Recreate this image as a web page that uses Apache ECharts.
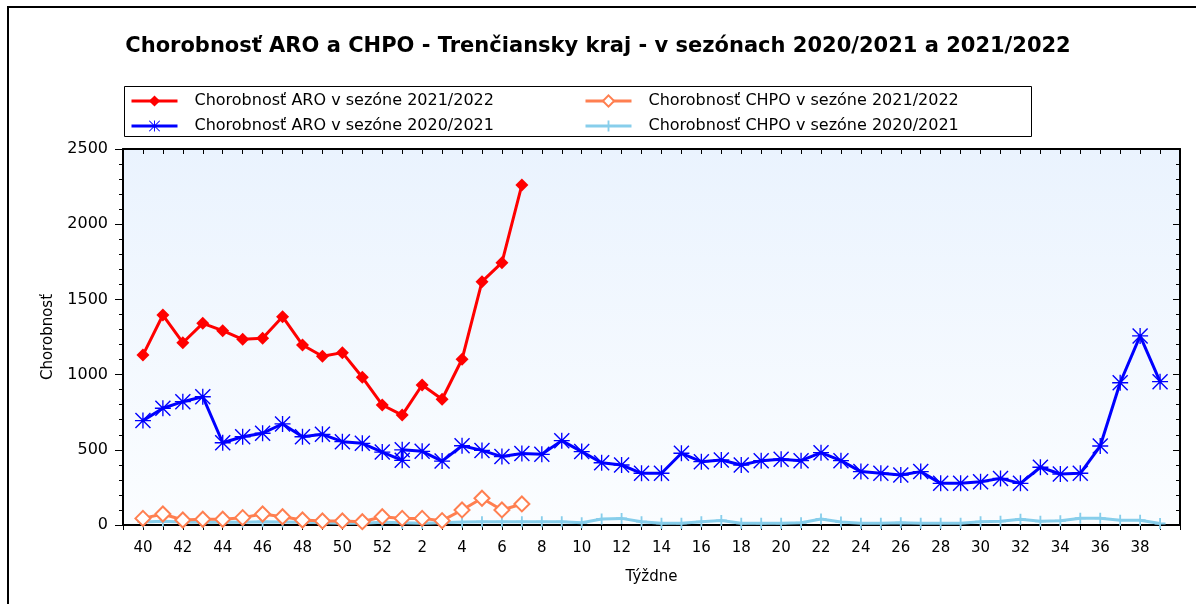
<!DOCTYPE html>
<html>
<head>
<meta charset="utf-8">
<script src="https://cdn.jsdelivr.net/npm/echarts@6/dist/echarts.min.js"></script>
<style>
  html, body { margin: 0; padding: 0; background: #fff; }
  #chart { width: 1196px; height: 604px; }
</style>
</head>
<body>
<div id="chart"></div>
<script>
// tick labels: the weeks of a season, axis positions 0..51
var weekLabels = [40, 41, 42, 43, 44, 45, 46, 47, 48, 49, 50, 51, 52,
  1, 2, 3, 4, 5, 6, 7, 8, 9, 10, 11, 12, 13, 14, 15, 16, 17, 18, 19, 20,
  21, 22, 23, 24, 25, 26, 27, 28, 29, 30, 31, 32, 33, 34, 35, 36, 37, 38, 39];

// season 2021/2022 (weeks 40..52, 1..7)
var weeks2122 = [40, 41, 42, 43, 44, 45, 46, 47, 48, 49, 50, 51, 52, 1, 2, 3, 4, 5, 6, 7];
var aro2122 = [1130, 1396, 1212, 1341, 1292, 1235, 1241, 1385, 1197, 1122, 1146, 982, 798,
  731, 931, 836, 1102, 1618, 1744, 2261];
var chpo2122 = [44, 73, 33, 38, 38, 49, 73, 55, 33, 27, 27, 22, 55,
  44, 44, 29, 100, 178, 100, 140];

// season 2020/2021 (weeks 40..53, 1..39)
var weeks2021 = [40, 41, 42, 43, 44, 45, 46, 47, 48, 49, 50, 51, 52, 53,
  1, 2, 3, 4, 5, 6, 7, 8, 9, 10, 11, 12, 13, 14, 15, 16, 17, 18, 19, 20,
  21, 22, 23, 24, 25, 26, 27, 28, 29, 30, 31, 32, 33, 34, 35, 36, 37, 38, 39];
var aro2021 = [694, 776, 820, 853, 547, 587, 610, 672, 587, 603, 554, 543, 485, 430,
  500, 490, 425, 527, 496, 455, 475, 470, 561, 488, 414, 399, 344, 344, 477, 421,
  432, 399, 428, 437, 428, 481, 428, 355, 344, 332, 355, 277, 277, 288, 310, 277,
  384, 339, 344, 525, 946, 1257, 953];
var chpo2021 = [20, 25, 20, 18, 20, 18, 22, 20, 18, 15, 12, 12, 18, 15,
  12, 12, 15, 20, 22, 22, 22, 22, 22, 15, 40, 44, 22, 11, 11, 22,
  30, 11, 11, 11, 15, 40, 20, 12, 12, 15, 12, 12, 12, 22, 25, 38,
  25, 28, 45, 45, 32, 32, 10];

var yTicks = [0, 500, 1000, 1500, 2000, 2500];

// week number -> position on the week axis
function weekPos(w) {
  if (w >= 40) return w - 40;
  if (w === 53) return 13;
  return w + 12;
}
function pairs(weeks, vals) {
  return vals.map(function (v, i) { return [weekPos(weeks[i]), v]; });
}

var asterisk = 'path://M11,0L13,0L13,24L11,24Z M0,11L24,11L24,13L0,13Z ' +
  'M1.5,0L24,22.5L22.5,24L0,1.5Z M22.5,0L24,1.5L1.5,24L0,22.5Z';
var plus = 'path://M5,0L7,0L7,12L5,12Z M0,5L12,5L12,7L0,7Z';

var names = [
  'Chorobnosť ARO v sezóne 2021/2022',
  'Chorobnosť CHPO v sezóne 2021/2022',
  'Chorobnosť ARO v sezóne 2020/2021',
  'Chorobnosť CHPO v sezóne 2020/2021'
];

var font = 'DejaVu Sans';
var chart = echarts.init(document.getElementById('chart'), null, { renderer: 'canvas' });

function legendCol(left, data) {
  return {
    data: data,
    left: left,
    top: 86,
    orient: 'vertical',
    itemWidth: 46,
    itemHeight: 14,
    itemGap: 9,
    padding: [7, 0, 0, 6],
    lineStyle: { width: 3 },
    textStyle: { fontFamily: font, fontSize: 16, color: '#000', padding: [0, 0, 0, 12] }
  };
}

var option = {
  animation: false,
  backgroundColor: '#fff',
  textStyle: { fontFamily: font },
  title: {
    text: 'Chorobnosť ARO a CHPO - Trenčiansky kraj - v sezónach 2020/2021 a 2021/2022',
    left: 'center',
    top: 31,
    textStyle: { fontFamily: font, fontSize: 21, fontWeight: 'bold', color: '#000' }
  },
  graphic: [{
    type: 'rect',
    shape: { x: 8, y: 7, width: 1250, height: 700 },
    style: { fill: 'none', stroke: '#000', lineWidth: 2 },
    silent: true
  }, {
    type: 'rect',
    shape: { x: 124.5, y: 86.5, width: 907, height: 50 },
    style: { fill: 'none', stroke: '#000', lineWidth: 1 },
    silent: true
  }],
  legend: [
    legendCol(124, [names[0], names[2]]),
    legendCol(578, [names[1], names[3]])
  ],
  grid: {
    left: 123,
    right: 16,
    top: 149,
    bottom: 79,
    show: true,
    borderWidth: 0,
    backgroundColor: {
      type: 'linear', x: 0, y: 0, x2: 0, y2: 1,
      colorStops: [{ offset: 0, color: '#eaf3fe' }, { offset: 1, color: '#fbfdff' }]
    }
  },
  xAxis: [{
    type: 'value',
    min: -1,
    max: 52,
    interval: 1,
    name: 'Týždne',
    nameLocation: 'middle',
    nameGap: 45,
    nameTextStyle: { fontFamily: font, fontSize: 15, color: '#000' },
    axisLine: { onZero: false, lineStyle: { color: '#000', width: 2 } },
    axisTick: { length: 5, lineStyle: { color: '#000' } },
    splitLine: { show: false },
    axisLabel: {
      fontFamily: font, fontSize: 15, color: '#000', margin: 16,
      formatter: function (v) {
        if (v < 0 || v > 51 || v % 2 !== 0) return '';
        return String(weekLabels[v]);
      }
    }
  }, {
    type: 'value',
    position: 'top',
    min: -1,
    max: 52,
    interval: 1,
    axisLine: { onZero: false, lineStyle: { color: '#000', width: 2 } },
    axisTick: { inside: true, length: 5, lineStyle: { color: '#000' } },
    axisLabel: { show: false },
    splitLine: { show: false }
  }],
  yAxis: [{
    type: 'value',
    min: yTicks[0],
    max: yTicks[yTicks.length - 1],
    interval: 500,
    name: 'Chorobnosť',
    nameLocation: 'middle',
    nameGap: 67,
    nameTextStyle: { fontFamily: font, fontSize: 15, color: '#000' },
    axisLine: { show: true, onZero: false, lineStyle: { color: '#000', width: 2 } },
    axisTick: { show: true, length: 8, lineStyle: { color: '#000' } },
    minorTick: { show: true, splitNumber: 5, length: 4, lineStyle: { color: '#000' } },
    splitLine: { show: false },
    axisLabel: {
      fontFamily: font, fontSize: 16, color: '#000', margin: 15,
      formatter: function (v) { return String(v); }
    }
  }, {
    type: 'value',
    position: 'right',
    min: yTicks[0],
    max: yTicks[yTicks.length - 1],
    interval: 500,
    axisLine: { show: true, onZero: false, lineStyle: { color: '#000', width: 2 } },
    axisTick: { show: true, inside: true, length: 7, lineStyle: { color: '#000' } },
    minorTick: { show: true, splitNumber: 5, length: 4, lineStyle: { color: '#000' } },
    splitLine: { show: false },
    axisLabel: { show: false }
  }],
  series: [{
    name: names[3],
    type: 'line',
    data: pairs(weeks2021, chpo2021),
    symbol: plus,
    symbolSize: 11,
    color: '#87ceeb',
    lineStyle: { width: 3, color: '#87ceeb' },
    itemStyle: { color: '#87ceeb' }
  }, {
    name: names[2],
    type: 'line',
    data: pairs(weeks2021, aro2021),
    symbol: asterisk,
    symbolSize: 16,
    color: '#0000ff',
    lineStyle: { width: 3, color: '#0000ff' },
    itemStyle: { color: '#0000ff' }
  }, {
    name: names[1],
    type: 'line',
    data: pairs(weeks2122, chpo2122),
    symbol: 'emptyDiamond',
    symbolSize: 15,
    color: '#ff7f50',
    lineStyle: { width: 3, color: '#ff7f50' },
    itemStyle: { color: '#ff7f50', borderColor: '#ff7f50', borderWidth: 1.5 }
  }, {
    name: names[0],
    type: 'line',
    data: pairs(weeks2122, aro2122),
    symbol: 'diamond',
    symbolSize: 13,
    color: '#ff0000',
    lineStyle: { width: 3, color: '#ff0000' },
    itemStyle: { color: '#ff0000' }
  }]
};

chart.setOption(option);
</script>
</body>
</html>
